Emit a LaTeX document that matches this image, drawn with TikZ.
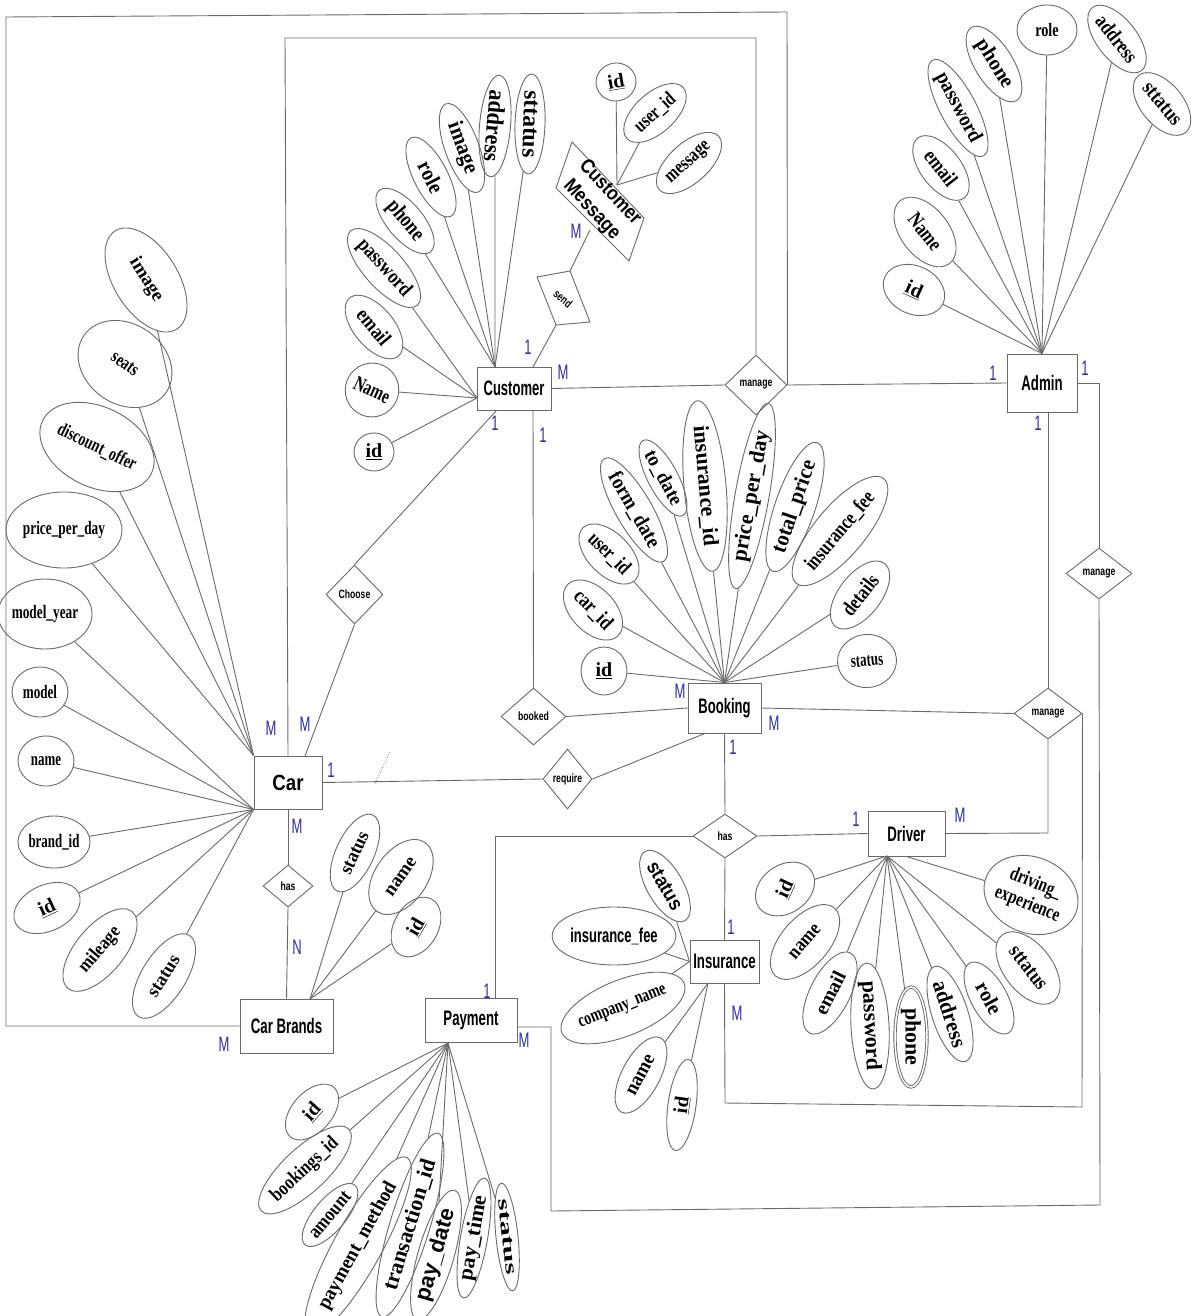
\documentclass[tikz,border=0pt]{standalone}
\usepackage{fontspec}
\usepackage{graphicx}
\usetikzlibrary{shapes.geometric}
\setmainfont{Liberation Serif}
\newfontfamily\sansR{Liberation Sans}
\definecolor{lc}{RGB}{105,105,105}
\definecolor{cblue}{RGB}{45,45,160}
% attribute text: size, horizontal squeeze, text
\newcommand\tx[3]{{\fontsize{#1}{#1}\selectfont\scalebox{#2}[1]{#3}}}
% bold sans text (entities etc.)
\newcommand\es[3]{{\sansR\bfseries\fontsize{#1}{#1}\selectfont\scalebox{#2}[1]{#3}}}
% relationship text
\newcommand\rt[1]{{\sansR\bfseries\fontsize{12}{12}\selectfont\scalebox{0.72}[1]{#1}}}
% cardinality text
\newcommand\cd[1]{{\sansR\fontsize{21}{21}\selectfont\scalebox{0.62}[1]{#1}}}
\begin{document}
\begin{tikzpicture}[x=1pt,y=-1pt,
  ln/.style={draw=lc,line width=0.9pt},
  ent/.style={draw=lc,line width=1pt,rectangle,inner sep=0pt},
  rel/.style={draw=lc,line width=0.9pt,diamond,inner sep=0pt},
  att/.style 2 args={draw=lc,line width=0.9pt,ellipse,inner sep=0pt,minimum width=#1,minimum height=#2,font=\bfseries},
  card/.style={text=cblue,inner sep=0pt}]
\useasboundingbox (0,0) rectangle (1193,1316);
\fill[white] (0,0) rectangle (1193,1316);

% ---------------- entities ----------------
\node[ent,minimum width=74,minimum height=43] (cust) at (514,388.5) {\es{21}{0.62}{Customer}};
\node[ent,minimum width=70,minimum height=58] (admin) at (1042,383) {\es{21}{0.63}{Admin}};
\node[ent,minimum width=68,minimum height=53] (car) at (288,782.5) {\es{22}{0.85}{Car}};
\node[ent,minimum width=73,minimum height=50] (book) at (724.5,708) {\es{21}{0.62}{Booking}};
\node[ent,minimum width=93,minimum height=54] (cb) at (286.5,1026) {\es{21}{0.63}{Car Brands}};
\node[ent,minimum width=92,minimum height=44] (pay) at (471,1020) {\es{21}{0.63}{Payment}};
\node[ent,minimum width=69,minimum height=43] (ins) at (724.5,961.5) {\es{21}{0.63}{Insurance}};
\node[ent,minimum width=77,minimum height=45] (drv) at (906.5,833.5) {\es{21}{0.63}{Driver}};

% tilted entity: Customer Message
\draw[ln] (572,142) -- (644,218) -- (629,261) -- (556,188) -- cycle;
\node[rotate=-47,inner sep=0pt] (cmsg) at (600,202) {\es{20}{0.87}{\begin{tabular}{@{}c@{}}Customer\\[5pt]Message\end{tabular}}};

% ---------------- relationships ----------------
\draw[ln] (537,277) -- (570,271) -- (590,322) -- (556,325) -- cycle;
\node[rotate=-40,inner sep=0pt] (send) at (563,299) {\rt{send}};
\node[rel,minimum width=62,minimum height=60] (mng1) at (756,385) {\rt{manage}};
\node[rel,minimum width=66,minimum height=51] (mng2) at (1099,573.5) {\rt{manage}};
\node[rel,minimum width=68,minimum height=51] (mng3) at (1048,713.5) {\rt{manage}};
\node[rel,minimum width=57,minimum height=59] (choose) at (354.5,594.5) {\rt{Choose}};
\node[rel,minimum width=65,minimum height=57] (booked) at (533.5,716.5) {\rt{booked}};
\node[rel,minimum width=49,minimum height=60] (req) at (567.5,779) {\rt{require}};
\node[rel,minimum width=50,minimum height=42] (has1) at (288,886) {\rt{has}};
\node[rel,minimum width=64,minimum height=44] (has2) at (725,836) {\rt{has}};

% ---------------- attachment points ----------------
\coordinate (cuT) at (495,367);
\coordinate (cuL) at (477,398);
\coordinate (cuT2) at (533,367);
\coordinate (cuB1) at (497,410);
\coordinate (cuB2) at (533,410);
\coordinate (cmA) at (617,185);
\coordinate (cmB) at (590,230);
\coordinate (sendB) at (556,325);
\coordinate (sendT) at (570,271);
\coordinate (carT2) at (305,756);
\coordinate (cbT) at (310,999);
\coordinate (bkB1) at (706,733);
\coordinate (adB) at (1048,412);
\coordinate (inB) at (708,983);
\coordinate (drB) at (887,856);
\coordinate (paB) at (448,1043);
\coordinate (paT) at (495,998);
\coordinate (paE) at (517,1027);

% ---------------- Car attributes ----------------
\node[att={116}{64},rotate=-58] (cImage) at (146,280) {\tx{19}{1}{image}};
\node[att={100}{80},rotate=-35] (cSeats) at (125,364) {\tx{19}{0.75}{seats}};
\node[att={92}{80},rotate=-26] (cDisc) at (97,447) {\tx{19}{0.73}{discount\_offer}};
\node[att={92}{76}] (cPrice) at (64,530) {\tx{19}{0.7}{price\_per\_day}};
\node[att={68}{70}] (cYear) at (45,614) {\tx{19}{0.7}{model\_year}};
\node[att={56}{50}] (cModel) at (40,692) {\tx{19}{0.69}{model}};
\node[att={56}{50}] (cName) at (46,761) {\tx{19}{0.68}{name}};
\node[att={70}{52}] (cBrand) at (54,842) {\tx{19}{0.68}{brand\_id}};
\node[att={70}{46},rotate=25] (cId) at (47,908) {\tx{20}{1}{\underline{id}}};
\node[att={100}{48},rotate=50] (cMile) at (100,950) {\tx{19}{0.88}{mileage}};
\node[att={96}{44},rotate=58] (cStat) at (164,976) {\tx{19}{0.97}{status}};
\foreach \a in {cImage,cSeats,cDisc,cPrice} \draw[ln] (\a) -- (car.north west);
\foreach \a in {cYear,cModel,cName,cBrand,cId,cMile,cStat} \draw[ln] (\a) -- (car.south west);

% ---------------- Car Brands attributes ----------------
\node[att={84}{38},rotate=65] (bStat) at (355,853) {\tx{19}{0.95}{status}};
\node[att={84}{52},rotate=55] (bName) at (401,877) {\tx{19}{0.99}{name}};
\node[att={64}{44},rotate=60] (bId) at (416,927) {\tx{20}{1}{\underline{id}}};
\foreach \a in {bStat,bName,bId} \draw[ln] (\a) -- (cbT);

% ---------------- Customer attributes ----------------
\node[att={100}{30},rotate=-92] (uStat) at (530,124) {\tx{24}{0.99}{sttatus}};
\node[att={102}{31},rotate=-95] (uAddr) at (495,126) {\tx{24}{0.92}{address}};
\node[att={94}{34},rotate=-70] (uImg) at (462,148) {\tx{22}{0.95}{image}};
\node[att={88}{34},rotate=-63] (uRole) at (431,177) {\tx{22}{0.9}{role}};
\node[att={80}{36},rotate=-50] (uPhone) at (405,221) {\tx{22}{0.8}{phone}};
\node[att={80}{40},rotate=-48] (uPass) at (384,268) {\tx{21}{0.83}{password}};
\node[att={76}{40},rotate=-50] (uEmail) at (374,327) {\tx{21}{0.84}{email}};
\node[att={48}{54},rotate=-25] (uName) at (372,390) {\tx{21}{0.72}{Name}};
\node[att={40}{38}] (uId) at (374,452) {\tx{20}{1}{\underline{id}}};
\foreach \a in {uStat,uAddr,uImg,uRole,uPhone} \draw[ln] (\a) -- (cuT);
\foreach \a in {uPass,uEmail,uName,uId} \draw[ln] (\a) -- (cuL);

% ---------------- Customer Message attributes ----------------
\node[att={40}{38},rotate=10] (mId) at (616,82) {\tx{20}{1}{\underline{id}}};
\node[att={76}{40},rotate=42] (mUser) at (655,113) {\tx{20}{0.77}{user\_id}};
\node[att={80}{40},rotate=42] (mMsg) at (689,163) {\tx{20}{0.77}{message}};
\foreach \a in {mId,mUser,mMsg} \draw[ln] (\a) -- (cmA);

% ---------------- Admin attributes ----------------
\node[att={64}{48},rotate=-25] (aId) at (914,290) {\tx{20}{1}{\underline{id}}};
\node[att={80}{48},rotate=-52] (aName) at (925,232) {\tx{21}{0.8}{Name}};
\node[att={76}{40},rotate=-52] (aEmail) at (941,168) {\tx{21}{0.82}{email}};
\node[att={86}{36},rotate=-62] (aPass) at (958,108) {\tx{21}{0.9}{password}};
\node[att={86}{38},rotate=-58] (aPhone) at (994,64) {\tx{21}{0.98}{phone}};
\node[att={60}{50}] (aRole) at (1047,30) {\tx{19}{0.75}{role}};
\node[att={80}{40},rotate=-52] (aAddr) at (1117,39) {\tx{21}{0.8}{address}};
\node[att={74}{42},rotate=-50] (aStat) at (1162,104) {\tx{21}{0.84}{sttatus}};
\foreach \a in {aId,aName,aEmail,aPass,aPhone,aRole,aAddr,aStat} \draw[ln] (\a) -- (admin.north);

% ---------------- Booking attributes ----------------
\node[att={46}{48}] (kId) at (604,671) {\tx{20}{1}{\underline{id}}};
\node[att={72}{44},rotate=-46] (kCar) at (593,610) {\tx{21}{0.82}{car\_id}};
\node[att={74}{42},rotate=-45] (kUser) at (609,554) {\tx{21}{0.77}{user\_id}};
\node[att={94}{36},rotate=-60] (kForm) at (634,510) {\tx{21}{0.9}{form\_date}};
\node[att={72}{30},rotate=-62] (kTo) at (663,478) {\tx{20}{0.95}{to\_date}};
\node[att={138}{42},rotate=-85] (kIns) at (705,486) {\tx{22}{1}{insurance\_id}};
\node[att={144}{34},rotate=80] (kPrice) at (752,496) {\tx{22}{0.98}{price\_per\_day}};
\node[att={136}{40},rotate=71] (kTotal) at (795,507) {\tx{22}{0.95}{total\_price}};
\node[att={110}{50},rotate=50] (kFee) at (840,531) {\tx{21}{0.78}{insurance\_fee}};
\node[att={80}{42},rotate=52] (kDet) at (860,595) {\tx{21}{0.8}{details}};
\node[att={59}{53},rotate=5] (kStat) at (867,661) {\tx{19}{0.68}{status}};
\foreach \a in {kId,kCar,kUser,kForm,kTo,kIns,kPrice,kTotal,kFee,kDet,kStat} \draw[ln] (\a) -- (book.north);

% ---------------- Insurance attributes ----------------
\node[att={80}{36},rotate=-60] (iStat) at (665,886) {\es{20}{0.9}{status}};
\node[att={106}{58}] (iFee) at (614,936) {\es{20}{0.65}{insurance\_fee}};
\node[att={92}{56},rotate=22] (iComp) at (623,1008) {\tx{19}{0.73}{company\_name}};
\node[att={84}{38},rotate=62] (iName) at (641,1075) {\tx{20}{0.94}{name}};
\node[att={92}{28},rotate=82] (iId) at (682,1105) {\tx{20}{1}{\underline{id}}};
\foreach \a in {iStat,iFee,iComp} \draw[ln] (\a) -- (ins.west);
\foreach \a in {iName,iId} \draw[ln] (\a) -- (inB);

% ---------------- Driver attributes ----------------
\node[att={64}{48},rotate=35] (dId) at (785,889) {\rotatebox{30}{\tx{20}{1}{\underline{id}}}};
\node[att={90}{48},rotate=49] (dName) at (805,942) {\tx{20}{0.86}{name}};
\node[att={90}{40},rotate=63] (dEmail) at (830,993) {\tx{20}{1}{email}};
\node[att={118}{38},rotate=-87] (dPass) at (870,1026) {\tx{22}{1}{password}};
\node[att={100}{32},rotate=-90,double=white,double distance=1.5pt] (dPhone) at (911,1037) {\tx{22}{1}{phone}};
\node[att={100}{36},rotate=-72] (dAddr) at (950,1014) {\tx{22}{0.95}{address}};
\node[att={80}{36},rotate=-61] (dRole) at (989,998) {\tx{21}{0.97}{role}};
\node[att={84}{48},rotate=-52] (dStat) at (1028,968) {\tx{21}{0.84}{sttatus}};
\node[att={86}{76},rotate=-22] (dDrv) at (1031,895) {\tx{20}{0.75}{\begin{tabular}{@{}c@{}}driving\_\\[2pt]experience\end{tabular}}};
\foreach \a in {dId,dName,dEmail,dPass,dPhone,dAddr,dRole,dStat} \draw[ln] (\a) -- (drB);
\draw[ln] (dDrv) -- (drv.south);

% ---------------- Payment attributes ----------------
\node[att={66}{40},rotate=48] (pId) at (312,1112) {\tx{20}{1}{\underline{id}}};
\node[att={96}{44},rotate=43] (pBook) at (305,1170) {\tx{20}{0.82}{bookings\_id}};
\node[att={72}{32},rotate=50] (pAmt) at (330,1215) {\tx{20}{0.84}{amount}};
\node[att={148}{48},rotate=61] (pMeth) at (358,1246) {\tx{20}{0.96}{payment\_method}};
\node[att={148}{40},rotate=73] (pTrans) at (410,1225) {\tx{22}{1}{transaction\_id}};
\node[att={126}{36},rotate=74] (pDate) at (436,1255) {\es{22}{1}{pay\_date}};
\node[att={112}{26},rotate=80] (pTime) at (474,1238) {\tx{21}{1.04}{pay\_time}};
\node[att={102}{22},rotate=-84] (pStat) at (507,1237) {\tx{17}{1.8}{status}};
\foreach \a in {pId,pBook,pAmt,pMeth,pTrans,pDate,pTime,pStat} \draw[ln] (\a) -- (paB);

% ---------------- relationship connectors ----------------
\draw[ln] (cb.west) -- (6,1026) -- (6,17) -- (787,12) -- (mng1.east);
\draw[ln] (car.north) -- (285,38) -- (756,38) -- (mng1.north);
\draw[ln] (cust.east) -- (mng1.west);
\draw[ln] (mng1.east) -- (admin.west);
\draw[ln] (cuT2) -- (sendB);
\draw[ln] (sendT) -- (cmB);
\draw[ln] (cuB1) -- (choose.north);
\draw[ln] (choose.south) -- (carT2);
\draw[ln] (cuB2) -- (booked.north);
\draw[ln] (booked.east) -- (book.west);
\draw[ln] (car.east) -- (req.west);
\draw[ln] (req.east) -- (bkB1);
\draw[lc,dotted,line width=0.8pt] (390,752) -- (375,784);
\draw[ln] (car.south) -- (has1.north);
\draw[ln] (has1.south) -- (cb.north);
\draw[ln] (book.south) -- (has2.north);
\draw[ln] (has2.south) -- (ins.north);
\draw[ln] (has2.east) -- (drv.west);
\draw[ln] (has2.west) -- (495,836) -- (paT);
\draw[ln] (book.east) -- (mng3.west);
\draw[ln] (adB) -- (mng3.north);
\draw[ln] (mng3.south) -- (1048,833) -- (drv.east);
\draw[ln] (mng3.east) -- (1082,1107) -- (725,1103) -- (ins.south);
\draw[ln] (admin.east) -- (1099,383) -- (mng2.north);
\draw[ln] (mng2.south) -- (1100,1205) -- (551,1211) -- (551,1027) -- (paE);

% ---------------- cardinalities ----------------
\node[card] (k01) at (993,373) {\cd{1}};
\node[card] (k02) at (1085,368) {\cd{1}};
\node[card] (k03) at (1038,423) {\cd{1}};
\node[card] (k04) at (563,372) {\cd{M}};
\node[card] (k05) at (528,347) {\cd{1}};
\node[card] (k06) at (495,423) {\cd{1}};
\node[card] (k07) at (543,435) {\cd{1}};
\node[card] (k08) at (576,231) {\cd{M}};
\node[card] (k09) at (271,728) {\cd{M}};
\node[card] (k10) at (305,724) {\cd{M}};
\node[card] (k11) at (331,770) {\cd{1}};
\node[card] (k12) at (297,826) {\cd{M}};
\node[card] (k13) at (297,947) {\cd{N}};
\node[card] (k14) at (224,1044) {\cd{M}};
\node[card] (k15) at (680,691) {\cd{M}};
\node[card] (k16) at (774,723) {\cd{M}};
\node[card] (k17) at (733,747) {\cd{1}};
\node[card] (k18) at (856,819) {\cd{1}};
\node[card] (k19) at (960,815) {\cd{M}};
\node[card] (k20) at (731,927) {\cd{1}};
\node[card] (k21) at (737,1013) {\cd{M}};
\node[card] (k22) at (487,991) {\cd{1}};
\node[card] (k23) at (524,1040) {\cd{M}};
\end{tikzpicture}
\end{document}
